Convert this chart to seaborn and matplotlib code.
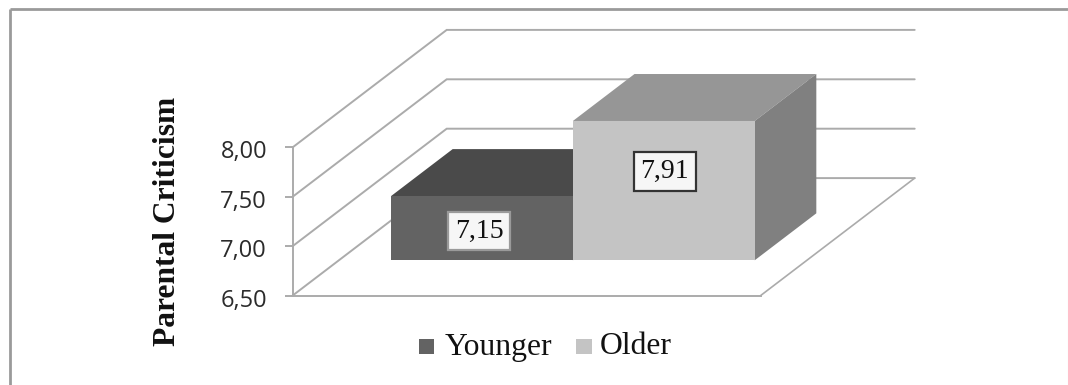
import matplotlib
matplotlib.use("Agg")
import matplotlib.pyplot as plt
from matplotlib.lines import Line2D
from matplotlib.patches import Polygon, Rectangle
from matplotlib.transforms import Affine2D, ScaledTranslation
import numpy as np
import pandas as pd
import seaborn as sns

# Chart values
groups = ["Younger", "Older"]
scores = [7.15, 7.91]
score_labels = ["7,15", "7,91"]
tick_values = [6.5, 7.0, 7.5, 8.0]
tick_labels = ["6,50", "7,00", "7,50", "8,00"]

# Canvas and plot-box geometry, in pixels
W, H = 1068, 385
BOX_L, BOX_R, BOX_T, BOX_B = 292.7, 760.7, 147.3, 295.5
BASE, TOP = 6.5, 8.0
WALL_DX_PX, WALL_DY_PX = 154.0, 117.4
BAR_FRONT, BAR_BACK = 0.30, 0.70

FRONT = ["#636363", "#c4c4c4"]
ROOF = ["#4a4a4a", "#969696"]
SIDE = ["#555555", "#808080"]
GRID = "#ababab"
EDGE = ["#9a9a9a", "#333333"]
# Label placement relative to the top centre of each bar's front face, in pixels
LABEL_SHIFT_PX = [(-3, 35), (1, 50.5)]

sns.set_theme(style="white")
fig = plt.figure(figsize=(W / 100, H / 100), dpi=100, facecolor="white")
ax = fig.add_axes([BOX_L / W, 1 - BOX_B / H, (BOX_R - BOX_L) / W, (BOX_B - BOX_T) / H])

df = pd.DataFrame({"panel": ["all"] * len(groups), "group": groups, "score": scores})
sns.barplot(data=df, x="panel", y="score", hue="group", hue_order=groups, palette=FRONT,
            width=0.777, gap=0, dodge=True, saturation=1, legend=False, ax=ax, zorder=3)
ax.set_xlim(-0.5, 0.5)
ax.set_ylim(BASE, TOP)
ax.set_xlabel("")
ax.set_ylabel("")

# Depth vector of the side walls, expressed in data units
DX = WALL_DX_PX / (BOX_R - BOX_L)
DY = WALL_DY_PX * (TOP - BASE) / (BOX_B - BOX_T)

def depth(x, y, d):
    return (x + d * DX, y + d * DY)

# Gridlines run up the left wall and along the back wall
for v in tick_values:
    xs, ys = zip(depth(-0.5, v, 0), depth(-0.5, v, 1), depth(0.5, v, 1))
    ax.plot(xs, ys, color=GRID, lw=1.4, clip_on=False, zorder=1, solid_joinstyle="miter")
xs, ys = zip(depth(0.5, BASE, 1), depth(0.5, BASE, 0))
ax.plot(xs, ys, color=GRID, lw=1.2, clip_on=False, zorder=1)

# Extrude each seaborn bar into a box
shift = Affine2D().translate(BAR_FRONT * DX, BAR_FRONT * DY)
for i, (bar, value) in enumerate(zip(ax.patches, scores)):
    x0, w = bar.get_x(), bar.get_width()
    bar.set_y(BASE)
    bar.set_height(value - BASE)
    bar.set_transform(shift + ax.transData)
    bar.set_clip_on(False)
    bar.set_linewidth(0)
    bar.set_zorder(3 + i)
    x1 = x0 + w
    roof = [depth(x0, value, BAR_FRONT), depth(x1, value, BAR_FRONT),
            depth(x1, value, BAR_BACK), depth(x0, value, BAR_BACK)]
    side = [depth(x1, BASE, BAR_FRONT), depth(x1, value, BAR_FRONT),
            depth(x1, value, BAR_BACK), depth(x1, BASE, BAR_BACK)]
    ax.add_patch(Polygon(roof, closed=True, fc=ROOF[i], ec="none", clip_on=False, zorder=2.5 + i))
    ax.add_patch(Polygon(side, closed=True, fc=SIDE[i], ec="none", clip_on=False, zorder=2.5 + i))

    fx, fy = depth(x0 + w / 2, value, BAR_FRONT)
    ax.annotate(score_labels[i], (fx, fy),
                xytext=(LABEL_SHIFT_PX[i][0] * 0.72, -LABEL_SHIFT_PX[i][1] * 0.72),
                textcoords="offset points", ha="center", va="center", annotation_clip=False,
                family="Liberation Serif", fontsize=20, color="#111111", zorder=8,
                bbox=dict(boxstyle="square,pad=0.24", fc="#f6f6f6", ec=EDGE[i], lw=1.6))

# Value axis
for name in ("top", "right"):
    ax.spines[name].set_visible(False)
for name in ("left", "bottom"):
    ax.spines[name].set_color(GRID)
    ax.spines[name].set_linewidth(1.4)
ax.set_xticks([])
ax.set_yticks(tick_values, tick_labels, family="Open Sans", fontsize=17, color="#2b2b2b")
ax.tick_params(axis="y", direction="out", length=5.5, width=1.4, color=GRID, pad=13, left=True)
nudge = ScaledTranslation(0, -2 / 100, fig.dpi_scale_trans)
for label in ax.get_yticklabels():
    label.set_transform(label.get_transform() + nudge)
ax.patch.set_alpha(0)

fig.text(167.5 / W, 1 - 221 / H, "Parental Criticism", rotation=90, ha="center", va="center",
         family="Liberation Serif", fontweight="bold", fontsize=22.7, color="#111111")

# Legend entries
legend_swatch_px = [418.5, 576]
legend_text_px = [445, 600]
for i, name in enumerate(groups):
    fig.patches.append(Rectangle((legend_swatch_px[i] / W, 1 - 354 / H), 15.5 / W, 15.5 / H,
                                 transform=fig.transFigure, fc=FRONT[i], ec="none"))
    fig.text(legend_text_px[i] / W, 1 - 347 / H, name, ha="left", va="center",
             family="Liberation Serif", fontsize=22.8, color="#111111")

# Chart frame: heavy top and left rules, a faint hairline on the right
frame_x = 9.5 / W
frame_y = 1 - 8.5 / H
fig.add_artist(Line2D([frame_x, frame_x], [0, frame_y], color="#9a9a9a", lw=2.0,
                      solid_capstyle="butt"))
fig.add_artist(Line2D([frame_x, 1], [frame_y, frame_y], color="#9a9a9a", lw=2.0,
                      solid_capstyle="butt"))
fig.add_artist(Line2D([1067.5 / W, 1067.5 / W], [0, frame_y], color="#dddddd", lw=0.8))

fig.savefig("out.png", dpi=100)
